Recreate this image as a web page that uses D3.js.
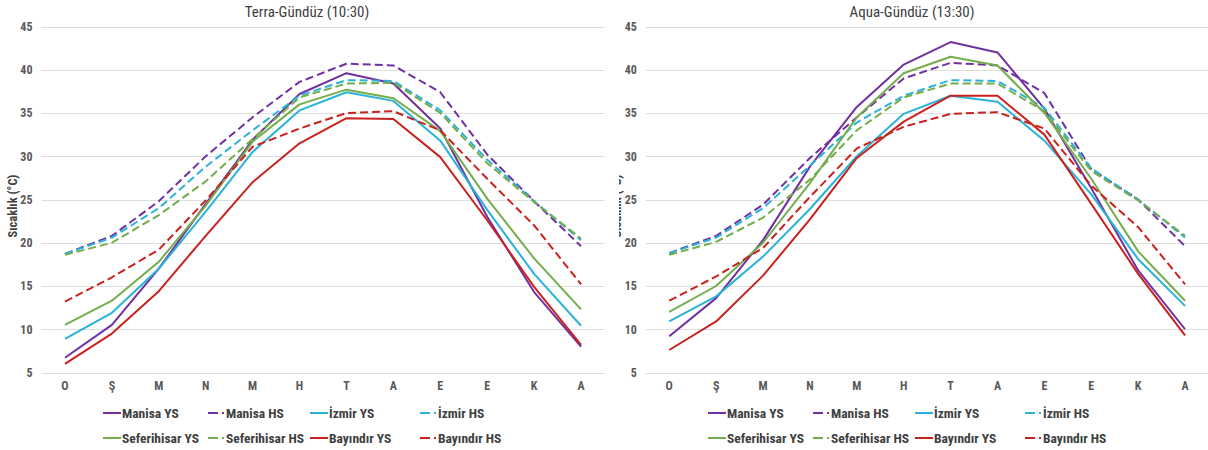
<!DOCTYPE html>
<html>
<head>
<meta charset="utf-8">
<script src="https://cdn.jsdelivr.net/npm/d3@7"></script>
<style>
  body { margin: 0; background: #fff; }
  svg text { font-family: "Roboto Condensed", "Liberation Sans Narrow", "Arial Narrow", Lato, sans-serif; }
</style>
</head>
<body>
<div id="chart"></div>
<script>
// categories and ticks
var months = ["O", "Ş", "M", "N", "M", "H", "T", "A", "E", "E", "K", "A"];
var yTicks = [5, 10, 15, 20, 25, 30, 35, 40, 45];
var seriesNames = ["Manisa YS", "Manisa HS", "İzmir YS", "İzmir HS",
                   "Seferihisar YS", "Seferihisar HS", "Bayındır YS", "Bayındır HS"];

// Terra (10:30) values
var terraManisaYS      = [6.7, 10.5, 17.0, 24.5, 31.9, 37.2, 39.6, 38.4, 33.2, 23.0, 14.3, 8.0];
var terraManisaHS      = [18.7, 20.8, 24.8, 30.0, 34.5, 38.6, 40.7, 40.5, 37.4, 30.2, 24.8, 19.6];
var terraIzmirYS       = [8.9, 11.9, 17.0, 23.6, 30.5, 35.3, 37.4, 36.4, 31.8, 23.8, 16.4, 10.4];
var terraIzmirHS       = [18.7, 20.6, 24.0, 28.8, 33.0, 37.0, 38.8, 38.7, 35.3, 29.6, 24.8, 20.3];
var terraSeferihisarYS = [10.5, 13.3, 17.8, 24.3, 31.7, 36.0, 37.7, 36.7, 32.9, 25.1, 18.2, 12.3];
var terraSeferihisarHS = [18.6, 20.0, 23.2, 27.1, 32.0, 36.8, 38.4, 38.5, 35.0, 29.2, 24.7, 20.5];
var terraBayindirYS    = [6.0, 9.5, 14.4, 20.8, 27.0, 31.5, 34.4, 34.3, 29.9, 22.6, 14.9, 8.2];
var terraBayindirHS    = [13.2, 16.0, 19.2, 24.9, 31.1, 33.2, 35.0, 35.2, 33.0, 27.4, 22.0, 15.2];

// Aqua (13:30) values
var aquaManisaYS      = [9.2, 13.6, 20.3, 28.8, 35.7, 40.6, 43.2, 42.0, 35.5, 26.3, 16.8, 10.0];
var aquaManisaHS      = [18.8, 20.8, 24.4, 29.8, 34.5, 39.0, 40.8, 40.5, 37.3, 28.5, 25.0, 19.6];
var aquaIzmirYS       = [10.9, 13.8, 18.4, 23.9, 30.0, 34.9, 37.0, 36.3, 31.8, 25.6, 18.1, 12.7];
var aquaIzmirHS       = [18.8, 20.6, 24.0, 28.9, 33.9, 37.0, 38.8, 38.7, 35.6, 28.6, 25.0, 20.6];
var aquaSeferihisarYS = [12.0, 15.0, 20.0, 26.9, 34.5, 39.6, 41.5, 40.5, 35.0, 27.4, 19.0, 13.3];
var aquaSeferihisarHS = [18.6, 20.1, 22.9, 27.3, 33.0, 36.8, 38.4, 38.4, 35.2, 28.3, 24.9, 20.8];
var aquaBayindirYS    = [7.6, 10.9, 16.2, 22.7, 29.8, 34.0, 37.0, 37.0, 32.5, 24.5, 16.4, 9.3];
var aquaBayindirHS    = [13.3, 16.1, 19.4, 25.3, 30.9, 33.4, 34.9, 35.1, 33.2, 26.6, 21.8, 15.2];

var colors = ["#7030a0", "#7030a0", "#2bb2d8", "#2bb2d8", "#74ad4c", "#74ad4c", "#c9211e", "#c9211e"];
var dashed = [false, true, false, true, false, true, false, true];

var svg = d3.select("#chart").append("svg")
    .attr("width", 1208)
    .attr("height", 450);

var drawPanel = function(opts) {
  var g = svg.append("g");
  if (opts.clipX != null) {
    svg.append("clipPath").attr("id", "clip-" + opts.id)
      .append("rect").attr("x", opts.clipX).attr("y", 0).attr("width", 1208).attr("height", 450);
    g.attr("clip-path", "url(#clip-" + opts.id + ")");
  }

  var x = d3.scaleBand().domain(d3.range(months.length)).range([opts.left, opts.right]);
  var y = d3.scaleLinear().domain([5, 45]).range([372.5, 26.5]);

  // gridlines
  g.append("g").selectAll("line")
      .data(yTicks)
    .enter().append("line")
      .attr("x1", opts.left).attr("x2", opts.right)
      .attr("y1", function(d) { return Math.round(y(d)) + 0.5; })
      .attr("y2", function(d) { return Math.round(y(d)) + 0.5; })
      .attr("stroke", "#dedede")
      .attr("stroke-width", 1);

  // y axis labels
  var yAxis = g.append("g")
      .attr("transform", "translate(" + (opts.left - 9) + ",0)")
      .call(d3.axisLeft(y).tickValues(yTicks).tickSize(0).tickPadding(0));
  yAxis.select(".domain").remove();
  yAxis.selectAll("text")
      .attr("fill", "#595959")
      .style("font-size", "12px")
      .style("font-weight", "bold");

  // x axis labels
  var xAxis = g.append("g")
      .attr("transform", "translate(0,381)")
      .call(d3.axisBottom(x).tickFormat(function(i) { return months[i]; }).tickSize(0).tickPadding(0));
  xAxis.select(".domain").remove();
  xAxis.selectAll("text")
      .attr("fill", "#595959")
      .style("font-size", "12px")
      .style("font-weight", "bold");

  // title
  g.append("text")
      .attr("x", opts.titleX)
      .attr("y", 17)
      .attr("text-anchor", "middle")
      .attr("fill", "#404040")
      .style("font-size", "15px")
      .text(opts.title);

  // y axis title
  g.append("text")
      .attr("transform", "translate(" + opts.yTitleX + ",206) rotate(-90)")
      .attr("text-anchor", "middle")
      .attr("fill", "#404040")
      .style("font-size", "12.5px")
      .style("font-weight", "bold")
      .text("Sıcaklık (°C)");

  var line = d3.line()
      .x(function(d, i) { return x(i) + x.bandwidth() / 2; })
      .y(function(d) { return y(d); });

  g.append("g").selectAll("path")
      .data(opts.series)
    .enter().append("path")
      .attr("d", function(d) { return line(d); })
      .attr("fill", "none")
      .attr("stroke", function(d, i) { return colors[i]; })
      .attr("stroke-width", 2)
      .attr("stroke-linejoin", "round")
      .attr("stroke-dasharray", function(d, i) { return dashed[i] ? "8,4" : null; });

  // legend
  var legend = g.append("g");
  var cols = [0, 105, 207, 317];
  seriesNames.forEach(function(name, i) {
    var lx = opts.legendX + cols[i % 4];
    var ly = i < 4 ? 413 : 438;
    var item = legend.append("g");
    if (dashed[i]) {
      item.append("line")
        .attr("x1", lx).attr("x2", lx + 10).attr("y1", ly).attr("y2", ly)
        .attr("stroke", colors[i]).attr("stroke-width", 2);
      item.append("line")
        .attr("x1", lx + 14).attr("x2", lx + 16).attr("y1", ly).attr("y2", ly)
        .attr("stroke", colors[i]).attr("stroke-width", 2);
    } else {
      item.append("line")
        .attr("x1", lx).attr("x2", lx + 18).attr("y1", ly).attr("y2", ly)
        .attr("stroke", colors[i]).attr("stroke-width", 2);
    }
    item.append("text")
      .attr("x", lx + (dashed[i] ? 18 : 19))
      .attr("y", ly)
      .attr("dy", "0.35em")
      .attr("fill", "#404040")
      .style("font-size", "13.5px")
      .style("font-weight", "bold")
      .text(name);
  });
};

drawPanel({
  id: "terra",
  left: 41.5, right: 604.5,
  title: "Terra-Gündüz (10:30)", titleX: 307,
  yTitleX: 17,
  legendX: 103,
  series: [terraManisaYS, terraManisaHS, terraIzmirYS, terraIzmirHS,
           terraSeferihisarYS, terraSeferihisarHS, terraBayindirYS, terraBayindirHS]
});

drawPanel({
  id: "aqua",
  clipX: 619,
  left: 645.8, right: 1208.5,
  title: "Aqua-Gündüz (13:30)", titleX: 912,
  yTitleX: 621,
  legendX: 708,
  series: [aquaManisaYS, aquaManisaHS, aquaIzmirYS, aquaIzmirHS,
           aquaSeferihisarYS, aquaSeferihisarHS, aquaBayindirYS, aquaBayindirHS]
});
</script>
</body>
</html>
